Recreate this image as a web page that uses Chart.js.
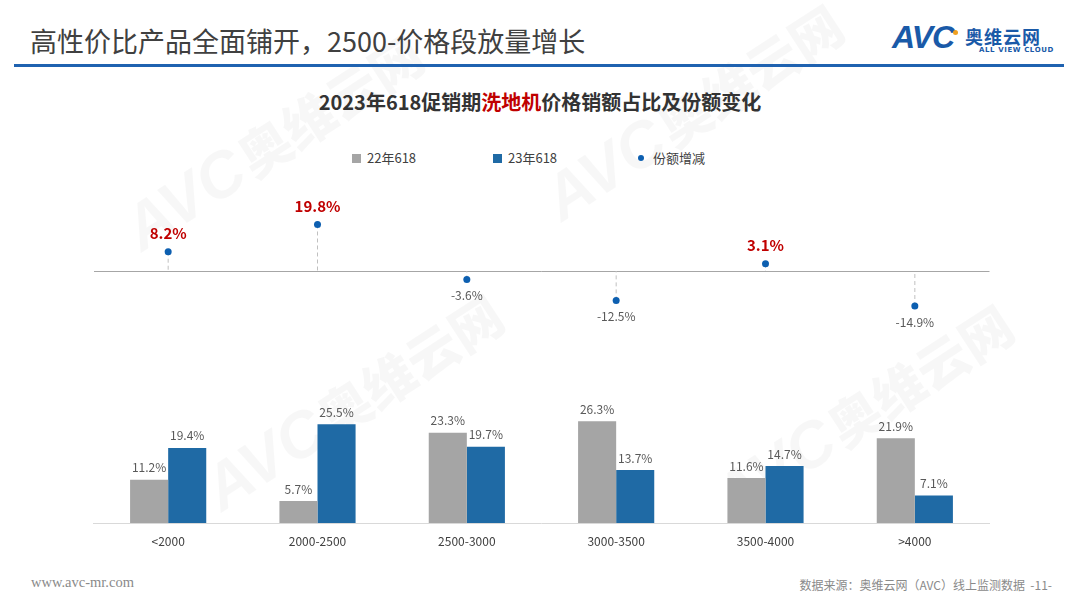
<!DOCTYPE html>
<html>
<head>
<meta charset="utf-8">
<script src="https://cdn.jsdelivr.net/npm/chart.js@4"></script>
<style>
  body { margin: 0; width: 1080px; height: 608px; overflow: hidden; background: #fff; position: relative;
         font-family: "Noto Sans CJK SC", sans-serif; }
  .abs { position: absolute; white-space: nowrap; }
  #pageTitle { left: 30px; top: 23px; font-size: 27px; line-height: 36px; color: #404040; }
  #topLine { left: 14px; top: 64px; width: 1050px; height: 3px; background: #1f62b0; }
  #logoAvc { left: 892px; top: 19px; font: italic 900 32px "Liberation Sans", sans-serif; color: #1a5aa8; letter-spacing: -1px; }
  #logoDot { left: 953px; top: 30px; width: 5px; height: 5px; border-radius: 50%; background: #f0a020; }
  #logoCn { left: 965px; top: 24px; font-size: 18px; font-weight: 700; color: #1a5aa8; line-height: 24px; letter-spacing: 1px; }
  #logoEn { left: 979px; top: 46px; font: 700 7px "DejaVu Sans", sans-serif; color: #1a5aa8; letter-spacing: 0.6px; }
  #chartTitle { left: 0; width: 1080px; top: 88px; text-align: center; font-size: 20px; font-weight: 700; color: #333; line-height: 28px; }
  #chartTitle span { color: #c00000; }
  .leg { top: 149px; font-size: 13px; color: #404040; line-height: 18px; display: flex; align-items: center; }
  .leg i { display: inline-block; width: 9px; height: 9px; margin-right: 6px; }
  .leg i.dot { width: 6px; height: 6px; border-radius: 50%; margin-right: 9px; }
  #foot1 { left: 31px; top: 574px; font: 14.5px "Liberation Serif", serif; color: #8a8a8a; }
  #foot2 { right: 28px; top: 576px; font-size: 12px; color: #8a8a8a; }
  .wm { color: rgba(0,0,0,0.03); transform-origin: left bottom; transform: rotate(-33deg); }
  .wm b { font: italic 900 64px "Liberation Sans", sans-serif; }
  .wm em { font-style: normal; font-weight: 900; font-size: 52px; }
  #chart { position: absolute; left: 0; top: 0; }
</style>
</head>
<body>
<div class="abs wm" style="left:150px;top:190px;"><b>AVC</b> <em>奥维云网</em></div>
<div class="abs wm" style="left:570px;top:160px;"><b>AVC</b> <em>奥维云网</em></div>
<div class="abs wm" style="left:230px;top:450px;"><b>AVC</b> <em>奥维云网</em></div>
<div class="abs wm" style="left:740px;top:460px;"><b>AVC</b> <em>奥维云网</em></div>

<div class="abs" id="pageTitle">高性价比产品全面铺开，2500-价格段放量增长</div>
<div class="abs" id="topLine"></div>
<div class="abs" id="logoAvc">AVC</div>
<div class="abs" id="logoDot"></div>
<div class="abs" id="logoCn">奥维云网</div>
<div class="abs" id="logoEn">ALL VIEW CLOUD</div>
<div class="abs" id="chartTitle">2023年618促销期<span>洗地机</span>价格销额占比及份额变化</div>
<div class="abs leg" style="left:352px;"><i style="background:#a5a5a5"></i>22年618</div>
<div class="abs leg" style="left:493px;"><i style="background:#1f6aa5"></i>23年618</div>
<div class="abs leg" style="left:638px;"><i class="dot" style="background:#0d5fb0"></i>份额增减</div>
<div class="abs" id="foot1">www.avc-mr.com</div>
<div class="abs" id="foot2">数据来源：奥维云网（AVC）线上监测数据 &nbsp;-11-</div>

<canvas id="chart" width="1080" height="608"></canvas>

<script>
// price bands and shares (%)
const categories = ['<2000', '2000-2500', '2500-3000', '3000-3500', '3500-4000', '>4000'];
const share22 = [11.2, 5.7, 23.3, 26.3, 11.6, 21.9];
const share23 = [19.4, 25.5, 19.7, 13.7, 14.7, 7.1];
const shareChange = [8.2, 19.8, -3.6, -12.5, 3.1, -14.9];

const fmt = v => v.toFixed(1) + '%';

// dashed drop lines + value labels
const markPlugin = {
    id: 'marks',
    beforeDatasetsDraw(chart) {
        const ctx = chart.ctx;
        const zero = chart.scales.y2.getPixelForValue(0);
        ctx.save();
        ctx.setLineDash([4, 3]);
        ctx.strokeStyle = '#c0c0c0';
        ctx.lineWidth = 1;
        chart.getDatasetMeta(2).data.forEach(p => {
            ctx.beginPath();
            ctx.moveTo(p.x, p.y);
            ctx.lineTo(p.x, zero);
            ctx.stroke();
        });
        ctx.restore();
    },
    afterDatasetsDraw(chart) {
        const ctx = chart.ctx;
        ctx.save();
        ctx.textAlign = 'center';
        ctx.textBaseline = 'middle';
        ctx.font = '12px "Noto Sans CJK SC", sans-serif';
        ctx.fillStyle = '#595959';
        [0, 1].forEach(i => {
            const values = chart.data.datasets[i].data;
            chart.getDatasetMeta(i).data.forEach((bar, j) => {
                ctx.fillText(fmt(values[j]), bar.x, bar.y - 12);
            });
        });
        chart.getDatasetMeta(2).data.forEach((p, j) => {
            const v = shareChange[j];
            if (v >= 0) {
                ctx.font = 'bold 15px "Noto Sans CJK SC", sans-serif';
                ctx.fillStyle = '#c00000';
                ctx.fillText(fmt(v), p.x, p.y - 18);
            } else {
                ctx.font = '12px "Noto Sans CJK SC", sans-serif';
                ctx.fillStyle = '#595959';
                ctx.fillText(fmt(v), p.x, p.y + 16);
            }
        });
        ctx.restore();
    }
};

new Chart(document.getElementById('chart'), {
    type: 'bar',
    data: {
        labels: categories,
        datasets: [
            {
                label: '22年618',
                data: share22,
                backgroundColor: '#a5a5a5',
                yAxisID: 'y',
                barPercentage: 1.0,
                categoryPercentage: 0.51
            },
            {
                label: '23年618',
                data: share23,
                backgroundColor: '#1f6aa5',
                yAxisID: 'y',
                barPercentage: 1.0,
                categoryPercentage: 0.51
            },
            {
                type: 'line',
                label: '份额增减',
                data: shareChange,
                yAxisID: 'y2',
                showLine: false,
                pointRadius: 3.5,
                pointBackgroundColor: '#0d5fb0',
                pointBorderWidth: 0
            }
        ]
    },
    options: {
        responsive: false,
        animation: false,
        layout: {
            padding: { left: 93.5, right: 90.5, top: 190, bottom: 48.6 }
        },
        plugins: {
            legend: { display: false },
            tooltip: { enabled: false }
        },
        scales: {
            x: {
                grid: { display: false, drawTicks: false },
                border: { display: true, color: '#d9d9d9', width: 1 },
                ticks: {
                    padding: 11,
                    color: '#404040',
                    font: { size: 12, family: '"Noto Sans CJK SC", sans-serif' }
                }
            },
            y: {
                stack: 'main',
                stackWeight: 143,
                min: 0,
                max: 36.95,
                ticks: { display: false },
                grid: { display: false, drawTicks: false },
                border: { display: false }
            },
            y2: {
                stack: 'main',
                stackWeight: 190,
                min: -46.38,
                max: 34.47,
                ticks: { display: false, stepSize: 10 },
                grid: {
                    drawTicks: false,
                    color: c => c.tick && c.tick.value === 0 ? '#a6a6a6' : 'rgba(0,0,0,0)'
                },
                border: { display: false }
            }
        }
    },
    plugins: [markPlugin]
});
</script>
</body>
</html>
